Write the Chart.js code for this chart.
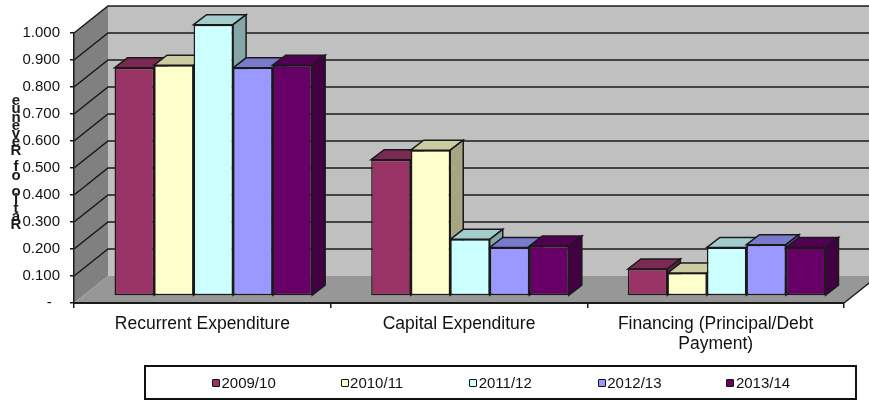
<!DOCTYPE html>
<html>
<head>
<meta charset="utf-8">
<style>
    body { margin: 0; background: #fff; font-family: "Liberation Sans", Arial, sans-serif; }
    #wrap { position: relative; width: 869px; height: 400px; overflow: hidden; filter: blur(0.4px); }
    #chart { position: absolute; left: 0; top: 0; }
    #legend {
        position: absolute; left: 144px; top: 365px; width: 713px; height: 35px;
        box-sizing: border-box; border: 2px solid #111; padding-left: 66px;
        display: flex; align-items: center; font-size: 15px; color: #111;
    }
    .item { width: 129.5px; display: flex; align-items: center; }
    .swatch { width: 6px; height: 6px; border: 1.5px solid #111; border-radius: 1px; margin-right: 1.5px; }
</style>
</head>
<body>
<div id="wrap">
    <canvas id="chart" width="869" height="400"></canvas>
    <div id="legend"></div>
</div>
<script src="https://cdn.jsdelivr.net/npm/chart.js@4"></script>
<script>
const categories = ['Recurrent Expenditure', 'Capital Expenditure', ['Financing (Principal/Debt', 'Payment)']];
const seriesNames = ['2009/10', '2010/11', '2011/12', '2012/13', '2013/14'];
const seriesColors = ['#993366', '#FFFFCC', '#CCFFFF', '#9999FF', '#660066'];
const values2009 = [0.845, 0.505, 0.100];
const values2010 = [0.855, 0.540, 0.085];
const values2011 = [1.005, 0.210, 0.180];
const values2012 = [0.845, 0.180, 0.190];
const values2013 = [0.855, 0.185, 0.180];
const yTickLabels = ['-  ', '0.100', '0.200', '0.300', '0.400', '0.500', '0.600', '0.700', '0.800', '0.900', '1.000'];
const yTitle = 'Ratio of Revenue';

const allValues = [values2009, values2010, values2011, values2012, values2013];
const INK = '#1a1a1a';

// multiply a hex colour, used for the top and side faces
function shade(hex, f) {
    const n = parseInt(hex.slice(1), 16);
    const c = [n >> 16, (n >> 8) & 255, n & 255].map(v => Math.round(v * f));
    return `rgb(${c[0]}, ${c[1]}, ${c[2]})`;
}

function poly(ctx, pts, fill, stroke) {
    ctx.beginPath();
    pts.forEach((p, i) => i ? ctx.lineTo(p[0], p[1]) : ctx.moveTo(p[0], p[1]));
    ctx.closePath();
    if (fill) { ctx.fillStyle = fill; ctx.fill(); }
    if (stroke) { ctx.strokeStyle = stroke; ctx.stroke(); }
}

// back wall, side wall and floor behind the axes
const room = {
    id: 'room',
    beforeDraw(chart) {
        const { ctx, chartArea: a, scales: { y } } = chart;
        const dx = 34, dy = 27;
        ctx.save();
        poly(ctx, [[a.left + dx, a.top - dy], [a.right + dx, a.top - dy], [a.right + dx, a.bottom - dy], [a.left + dx, a.bottom - dy]], '#C0C0C0');
        poly(ctx, [[a.left, a.top], [a.left + dx, a.top - dy], [a.left + dx, a.bottom - dy], [a.left, a.bottom]], '#808080');
        poly(ctx, [[a.left, a.bottom], [a.left + dx, a.bottom - dy], [a.right + dx, a.bottom - dy], [a.right, a.bottom]], '#979797');

        ctx.lineWidth = 1.5;
        ctx.strokeStyle = INK;
        yTickLabels.forEach((_, i) => {
            const py = y.getPixelForValue(i / 10);
            if (i > 0) {
                ctx.beginPath();
                ctx.moveTo(a.left, py);
                ctx.lineTo(a.left + dx, py - dy);
                ctx.lineTo(a.right + dx, py - dy);
                ctx.stroke();
            }
        });
        ctx.beginPath();
        ctx.moveTo(a.right, a.bottom);
        ctx.lineTo(a.right + dx, a.bottom - dy);
        ctx.stroke();
        ctx.restore();
    }
};

// the bars stand inside the room, so shift them and add top and side faces
const depth = {
    id: 'depth',
    beforeDatasetsDraw(chart) {
        const { ctx } = chart;
        const dx = 13, dy = 10;
        ctx.save();
        ctx.translate(11, -7);
        ctx.lineWidth = 1.5;
        chart.data.datasets.forEach((ds, i) => {
            chart.getDatasetMeta(i).data.forEach(bar => {
                const l = bar.x - bar.width / 2, r = bar.x + bar.width / 2;
                poly(ctx, [[l, bar.y], [l + dx, bar.y - dy], [r + dx, bar.y - dy], [r, bar.y]], shade(seriesColors[i], 0.8), INK);
                poly(ctx, [[r, bar.y], [r + dx, bar.y - dy], [r + dx, bar.base - dy], [r, bar.base]], shade(seriesColors[i], 0.65), INK);
            });
        });
    },
    afterDatasetsDraw(chart) {
        chart.ctx.restore();
    }
};

// letters stacked upwards, the way the original axis title came out
const stackedTitle = {
    id: 'stackedTitle',
    afterDraw(chart) {
        const { ctx } = chart;
        ctx.save();
        ctx.font = 'bold 15px "Liberation Sans"';
        ctx.fillStyle = INK;
        ctx.textAlign = 'center';
        ctx.textBaseline = 'middle';
        [...yTitle].forEach((ch, i) => ctx.fillText(ch, 16, 225 - i * 8.27));
        ctx.restore();
    }
};

const chart = new Chart(document.getElementById('chart'), {
    type: 'bar',
    data: {
        labels: categories,
        datasets: seriesNames.map((name, i) => ({
            label: name,
            data: allValues[i],
            backgroundColor: seriesColors[i],
            borderColor: INK,
            borderWidth: 1.5,
            borderSkipped: false,
            clip: false
        }))
    },
    options: {
        responsive: false,
        animation: false,
        layout: { padding: { top: 33, right: 25, left: 0, bottom: 0 } },
        datasets: { bar: { categoryPercentage: 0.77, barPercentage: 1 } },
        plugins: { legend: { display: false }, tooltip: { enabled: false } },
        scales: {
            x: {
                grid: { offset: true, drawOnChartArea: false, color: INK, tickLength: 5, lineWidth: 1.5 },
                border: { color: INK, width: 2 },
                ticks: {
                    color: '#111', padding: 6, maxRotation: 0, autoSkip: false,
                    font: { family: '"Liberation Sans"', size: 17.5, lineHeight: 1.14 }
                },
                afterFit: (scale) => { scale.height = 97; }
            },
            y: {
                min: 0,
                max: 1,
                grid: { drawOnChartArea: false, color: INK, tickLength: 4, lineWidth: 1.5 },
                border: { color: INK, width: 1.5 },
                ticks: {
                    stepSize: 0.1, color: '#111', padding: 10,
                    font: { family: '"Liberation Sans"', size: 15 },
                    callback: (value, index) => yTickLabels[index]
                },
                afterFit: (scale) => { scale.width = 74; }
            }
        }
    },
    plugins: [room, depth, stackedTitle]
});

document.getElementById('legend').innerHTML = chart.data.datasets.map((ds, i) => `
    <span class="item"><span class="swatch" style="background:${seriesColors[i]}"></span>${ds.label}</span>
`).join('');
</script>
</body>
</html>
